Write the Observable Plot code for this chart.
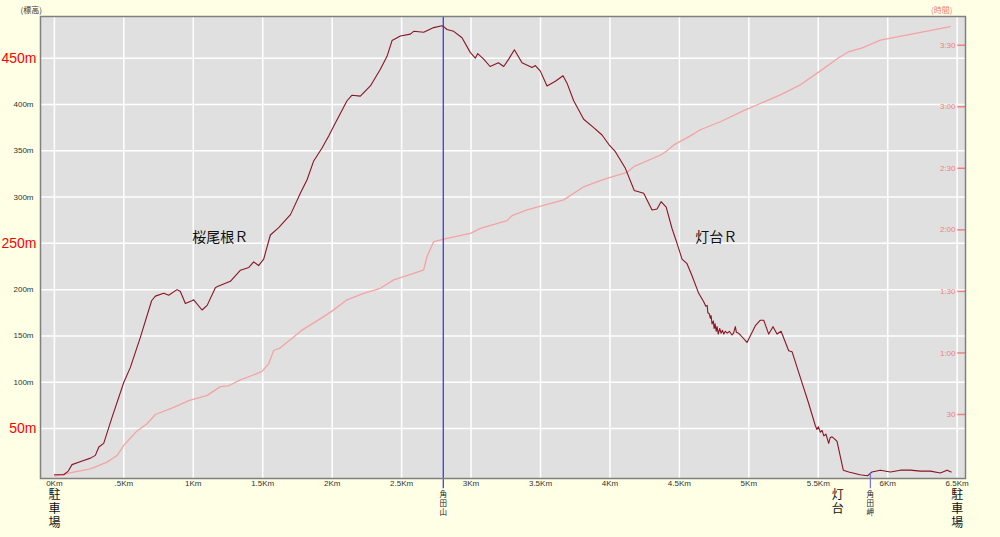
<!DOCTYPE html>
<html><head><meta charset="utf-8">
<script src="https://cdn.jsdelivr.net/npm/d3@7"></script>
<script src="https://cdn.jsdelivr.net/npm/@observablehq/plot@0.6"></script>
<style>
html,body{margin:0;padding:0;background:#FFFFE6;}
svg{display:block}
</style>
</head><body><div id="chart"></div>
<script>
// Elevation profile: distance (km) and elevation (m)
const distKm = [0,0.067,0.10,0.127,0.20,0.26,0.295,0.32,0.355,0.415,0.50,0.547,0.62,0.70,0.727,0.787,0.823,0.883,0.907,0.943,0.99,1.003,1.063,1.10,1.159,1.17,1.267,1.34,1.40,1.435,1.47,1.507,1.555,1.615,1.70,1.771,1.82,1.867,1.927,1.975,2.023,2.107,2.143,2.203,2.275,2.347,2.395,2.431,2.491,2.563,2.587,2.659,2.731,2.791,2.803,2.827,2.875,2.935,2.995,3.007,3.031,3.048,3.091,3.137,3.197,3.235,3.271,3.312,3.367,3.439,3.463,3.499,3.547,3.607,3.662,3.691,3.739,3.811,3.883,3.943,3.991,4.039,4.111,4.175,4.243,4.303,4.339,4.368,4.405,4.447,4.483,4.519,4.555,4.591,4.639,4.675,4.69,4.70,4.705,4.715,4.723,4.728,4.735,4.745,4.75,4.757,4.765,4.771,4.78,4.79,4.80,4.81,4.82,4.831,4.845,4.86,4.879,4.89,4.903,4.91,4.925,4.939,4.987,5.047,5.083,5.107,5.143,5.174,5.203,5.232,5.287,5.311,5.371,5.431,5.479,5.49,5.50,5.515,5.527,5.54,5.555,5.575,5.585,5.599,5.615,5.635,5.68,5.72,5.80,5.855,5.886,5.947,6.019,6.091,6.163,6.235,6.307,6.379,6.427,6.457];
const elevM = [0,0,4,11,15,18,21,30,34,62,100,116,149,188,193,196,194,200,198,185,188,189,178,183,202,203,209,221,224,230,226,233,259,267,281,304,319,339,353,366,380,404,410,409,420,438,452,469,474,476,479,478,483,485,484,481,479,472,456,454,450,455,449,441,445,441,449,459,445,440,442,436,420,425,431,423,404,384,375,367,357,349,331,307,304,286,287,295,289,266,250,233,228,215,196,187,182,183,175,174,169,172,163,166,158,163,155,160,152,158,153,156,152,155,153,155,151,153,160,154,153,151,143,161,167,167,152,160,152,155,134,133,105,77,53,49,52,46,48,42,44,34,40,41,39,36,5,3,0,-1,3,5,3,5,5,4,4,2,5,3];

// Elapsed time: distance (km) and minutes
const timeKm = [0,0.139,0.26,0.379,0.451,0.5,0.595,0.667,0.727,0.859,0.967,1.1,1.195,1.255,1.339,1.423,1.495,1.543,1.579,1.627,1.78,1.939,2.011,2.107,2.227,2.347,2.443,2.587,2.659,2.683,2.731,2.827,2.995,3.067,3.259,3.295,3.403,3.667,3.811,3.93,3.979,4.123,4.171,4.365,4.411,4.46,4.579,4.651,4.795,4.975,5.227,5.371,5.515,5.644,5.716,5.817,5.947,6.451];
const timeMin = [0,1.9,3.5,6.8,10,15,22,25.5,30,33.5,36.8,39.3,43.6,44,46.9,49,51,54.7,61.2,62.5,71,77.7,81,85.9,89,91.5,95.6,98.8,100.5,107,114.3,115.9,118.3,120.7,124.5,126.9,129.7,134.6,141,144,145.1,148,150.8,156.5,158.6,161.4,165.8,168.8,172.7,178.5,185.8,190.7,197.5,203.8,206.7,208.7,212.5,219.1];

// Axis ticks and labels
const xTickValues = [0,0.5,1,1.5,2,2.5,3,3.5,4,4.5,5,5.5,6,6.5];
const xTickLabels = ["0Km",".5Km","1Km","1.5Km","2Km","2.5Km","3Km","3.5Km","4Km","4.5Km","5Km","5.5Km","6Km","6.5Km"];
const elevGrid = [50,100,150,200,250,300,350,400,450];
const elevMinorValues = [100,150,200,300,350,400];
const elevMinorLabels = ["100m","150m","200m","300m","350m","400m"];
const elevMajorValues = [50,250,450];
const elevMajorLabels = ["50m","250m","450m"];
const timeTickValues = [30,60,90,120,150,180,210];
const timeTickLabels = ["30","1:00","1:30","2:00","2:30","3:00","3:30"];

// Landmarks
const placeNames = ["駐\n車\n場","灯\n台","駐\n車\n場"];
const placeKm = [0,5.64,6.5];
const peakNames = ["角\n田\n山","角\n田\n岬"];
const peakKm = [2.8,5.875];
const peakElev = [495,2];
const routeNames = ["桜尾根Ｒ","灯台Ｒ"];
const routeKm = [1.195,4.766];
const routeElev = [256.5,256.8];

const yDomain = [-4,495];
const tToY = d3.scaleLinear().domain([-1.2,224]).range(yDomain);
const below = -15;
const fontSmall = "'Liberation Sans', Arial, sans-serif";
const fontCJK = "'Noto Sans CJK JP', sans-serif";

const idx = a => a.map((d,i)=>i);

const chart = Plot.plot({
  width: 1000, height: 537,
  marginLeft: 40, marginRight: 35, marginTop: 16, marginBottom: 59,
  x: {domain: [-0.1, 6.56], axis: null},
  y: {domain: yDomain, axis: null},
  style: {background: "#FFFFE6", fontFamily: fontSmall},
  marks: [
    Plot.frame({fill: "#E0E0E0"}),
    Plot.ruleX(xTickValues, {stroke: "#ffffff", strokeWidth: 1.5}),
    Plot.ruleY(elevGrid, {stroke: "#ffffff", strokeWidth: 1.5}),
    // time line
    Plot.line(idx(timeKm), {x: timeKm, y: timeMin.map(tToY), stroke: "#F4A3A3", strokeWidth: 1.3}),
    // elevation line
    Plot.line(idx(distKm), {x: distKm, y: elevM, stroke: "#8B1424", strokeWidth: 1.1}),
    // peak markers
    Plot.ruleX([0], {x: () => peakKm[0], y1: below, y2: peakElev[0], stroke: "#2F2FE0", strokeWidth: 1.2}),
    Plot.ruleX([0], {x: () => peakKm[1], y1: below, y2: peakElev[1], stroke: "#7070FF", strokeWidth: 1.2}),
    Plot.text(idx(peakNames), {x: peakKm, y: peakNames.map(()=>below), text: peakNames, lineAnchor: "top", dy: 2, fontSize: 7.5, lineHeight: 1.2, fill: "#222", fontFamily: fontCJK}),
    // places below axis
    Plot.text(idx(placeNames), {x: placeKm, y: placeNames.map(()=>below), text: placeNames, lineAnchor: "top", dy: 1, fontSize: 12, lineHeight: 1.15, fill: "#111", fontFamily: fontCJK}),
    // route labels
    Plot.text(idx(routeNames), {x: routeKm, y: routeElev, text: routeNames, fontSize: 14, fill: "#111", fontFamily: fontCJK}),
    // x tick labels
    Plot.text(idx(xTickValues), {x: xTickValues, text: xTickLabels, frameAnchor: "bottom", dy: 7, fontSize: 8, fill: "#333"}),
    // left axis labels
    Plot.text(idx(elevMinorValues), {y: elevMinorValues, text: elevMinorLabels, frameAnchor: "left", textAnchor: "end", dx: -7, fontSize: 8, fill: "#333"}),
    Plot.text(idx(elevMajorValues), {y: elevMajorValues, text: elevMajorLabels, frameAnchor: "left", textAnchor: "end", dx: -4, fontSize: 14, fill: "#FF0000"}),
    // right time axis (inside)
    Plot.ruleY(idx(timeTickValues), {y: timeTickValues.map(tToY), x1: 6.505, x2: 6.56, stroke: "#F08080", strokeWidth: 1.5}),
    Plot.text(idx(timeTickValues), {y: timeTickValues.map(tToY), text: timeTickLabels, frameAnchor: "right", textAnchor: "end", dx: -10, fontSize: 8, fill: "#F08080"}),
    // axis titles
    Plot.text(["(標高)"], {frameAnchor: "top-left", dx: -20, dy: -9, fontSize: 8, fill: "#333", fontFamily: fontCJK}),
    Plot.text(["(時間)"], {frameAnchor: "top-right", dx: -13, dy: -9, fontSize: 8, fill: "#F08080", fontFamily: fontCJK}),
    Plot.frame({stroke: "#808080", strokeWidth: 1.5})
  ]
});
document.getElementById("chart").append(chart);
</script>
</body></html>
